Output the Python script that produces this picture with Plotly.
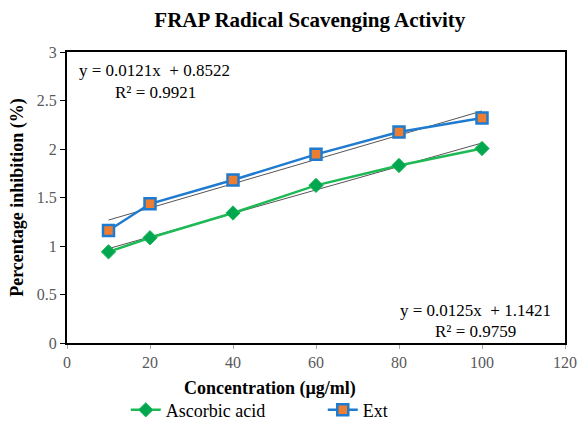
import plotly.graph_objects as go

conc = [10, 20, 40, 60, 80, 100]
ascorbic = [0.94, 1.085, 1.34, 1.625, 1.83, 2.005]
ext = [1.16, 1.435, 1.68, 1.945, 2.175, 2.32]

# trendline coefficients as printed on the chart
asc_slope, asc_int = 0.0121, 0.8522
ext_slope, ext_int = 0.0125, 1.1421
trend_x = [10, 100]

font_family = "Liberation Serif, Times New Roman, serif"

fig = go.Figure()
fig.add_trace(go.Scatter(
    x=trend_x, y=[asc_slope * v + asc_int for v in trend_x], mode="lines",
    line=dict(color="#555555", width=1), showlegend=False, hoverinfo="skip"))
fig.add_trace(go.Scatter(
    x=trend_x, y=[ext_slope * v + ext_int for v in trend_x], mode="lines",
    line=dict(color="#555555", width=1), showlegend=False, hoverinfo="skip"))
fig.add_trace(go.Scatter(
    x=conc, y=ascorbic, mode="lines+markers", name="Ascorbic acid",
    line=dict(color="#1DB954", width=2.5),
    marker=dict(symbol="diamond", size=11, color="#00A650", line=dict(color="#1DB954", width=1))))
fig.add_trace(go.Scatter(
    x=conc, y=ext, mode="lines+markers", name="Ext",
    line=dict(color="#1F7BD0", width=2.5),
    marker=dict(symbol="square", size=11, color="#ED7D31", line=dict(color="#1F7BD0", width=2.5))))

ann_font = dict(family=font_family, size=17, color="black")
for txt, x, y in [("y = 0.0121x  + 0.8522", 0.020, 0.935),
                  ("R² = 0.9921", 0.092, 0.8625),
                  ("y = 0.0125x  + 1.1421", 0.665, 0.113),
                  ("R² = 0.9759", 0.735, 0.041)]:
    fig.add_annotation(x=x, y=y, xref="paper", yref="paper", xanchor="left", yanchor="middle",
                       text=txt, showarrow=False, font=ann_font)

fig.add_annotation(x=0.408, y=-0.155, xref="paper", yref="paper", xanchor="center", yanchor="middle",
                   text="<b>Concentration (µg/ml)</b>", showarrow=False,
                   font=dict(family=font_family, size=18, color="black"))

fig.update_layout(
    width=578, height=425,
    margin=dict(l=67, r=13, t=52, b=82, autoexpand=False),
    paper_bgcolor="white", plot_bgcolor="white",
    title=dict(text="<b>FRAP Radical Scavenging Activity</b>", x=0.536, xanchor="center",
               xref="container", yref="container",
               y=0.953, yanchor="middle", font=dict(family=font_family, size=21, color="black")),
    font=dict(family=font_family, size=16, color="black"),
    legend=dict(orientation="h", x=0.118, xanchor="left", y=0.035, yref="container", yanchor="middle",
                font=dict(family=font_family, size=18, color="black"), itemwidth=30, traceorder="normal",
                entrywidthmode="pixels", entrywidth=152, bgcolor="rgba(0,0,0,0)"),
    showlegend=True,
)
fig.update_xaxes(range=[0, 120], dtick=20, showgrid=False, zeroline=False,
                 showline=True, linecolor="black", linewidth=2, mirror=True,
                 ticks="outside", ticklen=4, tickcolor="#aaaaaa",
                 tickfont=dict(family=font_family, size=16, color="#595959"))
fig.update_yaxes(range=[0, 3], dtick=0.5, showgrid=False, zeroline=False,
                 showline=True, linecolor="black", linewidth=2, mirror=True,
                 ticks="outside", ticklen=5, tickcolor="black",
                 title=dict(text="<b>Percentage inhibition (%)</b>",
                            font=dict(family=font_family, size=18, color="black"), standoff=8),
                 tickfont=dict(family=font_family, size=16, color="#595959"))

fig.write_html("out.html")
